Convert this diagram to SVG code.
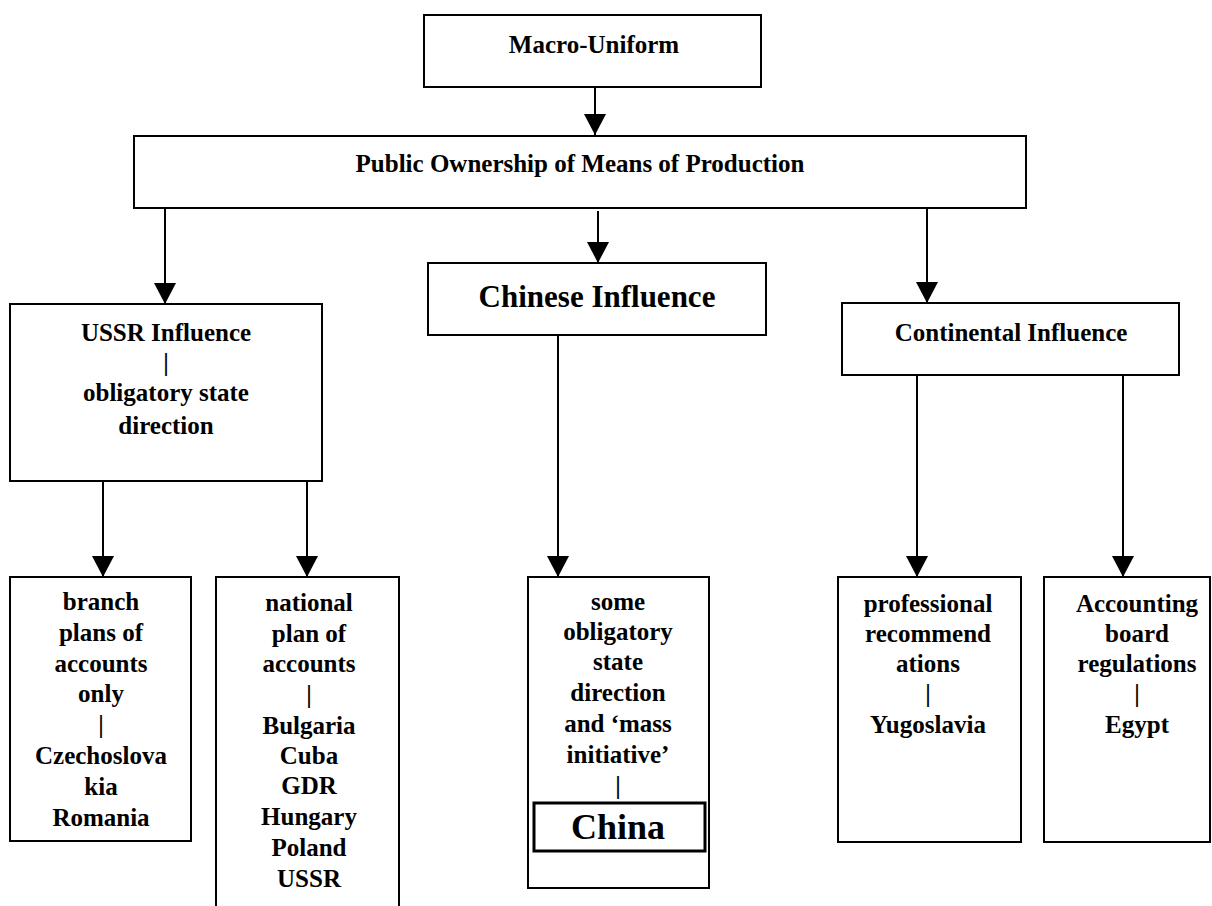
<svg xmlns="http://www.w3.org/2000/svg" width="1212" height="906" viewBox="0 0 1212 906">
<style>
.box{fill:#fff;stroke:#000;stroke-width:2}
.t{font-family:"Liberation Serif","Times New Roman",serif;font-weight:bold;font-size:25px;fill:#000;text-anchor:middle}
.conn line{stroke:#000;stroke-width:2;marker-end:url(#ah)}
</style>
<defs>
<marker id="ah" markerUnits="userSpaceOnUse" markerWidth="22" markerHeight="22" viewBox="0 0 22 22" refX="21" refY="11" orient="auto">
<path d="M0,0 L21,11 L0,22 z" fill="#000"/>
</marker>
</defs>
<rect width="1212" height="906" fill="#fff"/>
<g class="conn" id="connectors">
<line x1="595" y1="87" x2="595" y2="135"/>
<line x1="165" y1="208" x2="165" y2="304"/>
<line x1="598" y1="211" x2="598" y2="263"/>
<line x1="927" y1="208" x2="927" y2="303"/>
<line x1="103" y1="481" x2="103" y2="577"/>
<line x1="307" y1="481" x2="307" y2="577"/>
<line x1="558" y1="335" x2="558" y2="577"/>
<line x1="917" y1="375" x2="917" y2="577"/>
<line x1="1123" y1="375" x2="1123" y2="577"/>
</g>
<g id="macro">
<rect class="box" x="424" y="15" width="337" height="72"/>
<text class="t" x="594" y="53">Macro-Uniform</text>
</g>
<g id="public">
<rect class="box" x="134" y="136" width="892" height="72"/>
<text class="t" x="580" y="172">Public Ownership of Means of Production</text>
</g>
<g id="ussr">
<rect class="box" x="10" y="304" width="312" height="177"/>
<text class="t" x="166" y="341">USSR Influence</text>
<text class="t" x="166" y="371">|</text>
<text class="t" x="166" y="401">obligatory state</text>
<text class="t" x="166" y="434">direction</text>
</g>
<g id="chinese">
<rect class="box" x="428" y="263" width="338" height="72"/>
<text class="t" x="597" y="307" style="font-size:31px">Chinese Influence</text>
</g>
<g id="continental">
<rect class="box" x="842" y="303" width="337" height="72"/>
<text class="t" x="1011" y="341">Continental Influence</text>
</g>
<g id="branch">
<rect class="box" x="10" y="577" width="181" height="264"/>
<text class="t" x="101" y="610">branch</text>
<text class="t" x="101" y="641">plans of</text>
<text class="t" x="101" y="672">accounts</text>
<text class="t" x="101" y="702">only</text>
<text class="t" x="101" y="733">|</text>
<text class="t" x="101" y="764">Czechoslova</text>
<text class="t" x="101" y="795">kia</text>
<text class="t" x="101" y="826">Romania</text>
</g>
<g id="national">
<rect class="box" x="216" y="577" width="183" height="340"/>
<text class="t" x="309" y="611">national</text>
<text class="t" x="309" y="642">plan of</text>
<text class="t" x="309" y="672">accounts</text>
<text class="t" x="309" y="703">|</text>
<text class="t" x="309" y="734">Bulgaria</text>
<text class="t" x="309" y="764">Cuba</text>
<text class="t" x="309" y="794">GDR</text>
<text class="t" x="309" y="825">Hungary</text>
<text class="t" x="309" y="856">Poland</text>
<text class="t" x="309" y="887">USSR</text>
</g>
<g id="some">
<rect class="box" x="528" y="577" width="181" height="311"/>
<text class="t" x="618" y="610">some</text>
<text class="t" x="618" y="640">obligatory</text>
<text class="t" x="618" y="670">state</text>
<text class="t" x="618" y="701">direction</text>
<text class="t" x="618" y="732">and ‘mass</text>
<text class="t" x="618" y="763">initiative’</text>
<text class="t" x="618" y="794">|</text>
</g>
<g id="china">
<rect x="534" y="803" width="171" height="48" fill="#fff" stroke="#000" stroke-width="3"/>
<text class="t" x="618" y="839" style="font-size:36px">China</text>
</g>
<g id="professional">
<rect class="box" x="838" y="577" width="183" height="265"/>
<text class="t" x="928" y="612">professional</text>
<text class="t" x="928" y="642">recommend</text>
<text class="t" x="928" y="672">ations</text>
<text class="t" x="928" y="702">|</text>
<text class="t" x="928" y="733">Yugoslavia</text>
</g>
<g id="accounting">
<rect class="box" x="1044" y="577" width="166" height="265"/>
<text class="t" x="1137" y="612">Accounting</text>
<text class="t" x="1137" y="642">board</text>
<text class="t" x="1137" y="672">regulations</text>
<text class="t" x="1137" y="702">|</text>
<text class="t" x="1137" y="733">Egypt</text>
</g>
</svg>
